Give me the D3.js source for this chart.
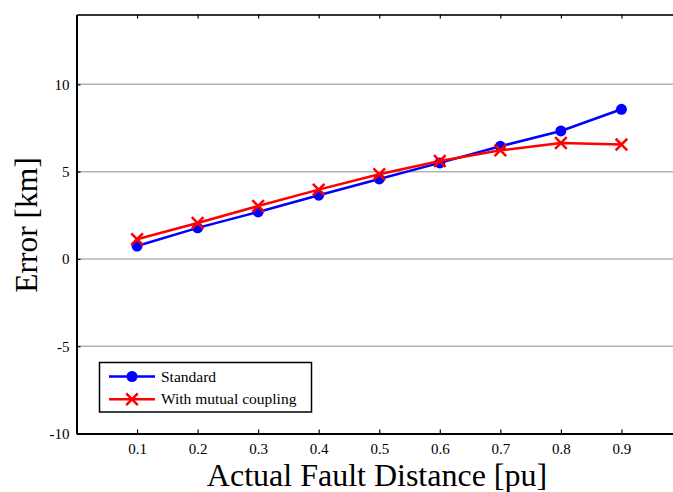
<!DOCTYPE html>
<html>
<head>
<meta charset="utf-8">
<script src="https://cdn.jsdelivr.net/npm/d3@7"></script>
<style>
  body { margin: 0; background: #fff; }
  svg text { font-family: "Times New Roman", "Liberation Serif", serif; }
</style>
</head>
<body>
<div id="chart"></div>
<script>
const distances = [0.1, 0.2, 0.3, 0.4, 0.5, 0.6, 0.7, 0.8, 0.9];
const standardErr = [0.74, 1.78, 2.69, 3.65, 4.58, 5.50, 6.45, 7.33, 8.57];
const mutualErr = [1.13, 2.06, 3.03, 3.97, 4.85, 5.61, 6.22, 6.64, 6.55];
const xTicks = [0.1, 0.2, 0.3, 0.4, 0.5, 0.6, 0.7, 0.8, 0.9];
const yTicks = [-10, -5, 0, 5, 10];
const legendLabels = ['Standard', 'With mutual coupling'];

const width = 673;
const height = 492;
const plot = { left: 76.5, top: 14.5, right: 682, bottom: 433.5 };

const svg = d3.select('#chart')
    .append('svg')
    .attr('width', width)
    .attr('height', height);

const x = d3.scaleLinear().domain([0, 1]).range([plot.left, plot.right]);
const y = d3.scaleLinear().domain([-10, 14]).range([plot.bottom, plot.top]);

// grid lines
svg.append('g')
    .selectAll('line')
    .data(yTicks.filter(d => d > -10))
    .join('line')
    .attr('x1', plot.left)
    .attr('x2', width)
    .attr('y1', d => y(d))
    .attr('y2', d => y(d))
    .attr('stroke', '#b4b4b4')
    .attr('stroke-width', 1.5);

// bottom axis
const xAxis = d3.axisBottom(x).tickValues(xTicks).tickSize(-4).tickSizeOuter(0)
    .tickPadding(10).tickFormat(d3.format('.1f'));
const gx = svg.append('g')
    .attr('transform', `translate(0,${plot.bottom})`)
    .attr('font-family', null)
    .call(xAxis);
gx.attr('font-family', null);
gx.select('.domain').attr('stroke', '#000').attr('stroke-width', 2);
gx.selectAll('.tick line').attr('stroke', '#000').attr('stroke-width', 1.2);
gx.selectAll('.tick text').attr('font-size', 15).attr('fill', '#000');

// top axis (ticks only)
const gt = svg.append('g')
    .attr('transform', `translate(0,${plot.top})`)
    .call(d3.axisTop(x).tickValues(xTicks).tickSize(-4).tickSizeOuter(0).tickFormat(''));
gt.select('.domain').attr('stroke', '#333').attr('stroke-width', 2);
gt.selectAll('.tick line').attr('stroke', '#000').attr('stroke-width', 1.2);

// left axis
const yAxis = d3.axisLeft(y).tickValues(yTicks).tickSize(-4).tickSizeOuter(0)
    .tickPadding(7).tickFormat(d => String(d));
const gy = svg.append('g')
    .attr('transform', `translate(${plot.left},0)`)
    .call(yAxis);
gy.attr('font-family', null);
gy.select('.domain').attr('stroke', '#000').attr('stroke-width', 2);
gy.selectAll('.tick line').attr('stroke', '#000').attr('stroke-width', 1.2);
gy.selectAll('.tick text').attr('font-size', 15).attr('fill', '#000');

// series
const line = d3.line()
    .x((d, i) => x(distances[i]))
    .y(d => y(d));

svg.append('path')
    .datum(standardErr)
    .attr('fill', 'none')
    .attr('stroke', '#0000ff')
    .attr('stroke-width', 2.5)
    .attr('d', line);

svg.append('g')
    .selectAll('circle')
    .data(standardErr)
    .join('circle')
    .attr('cx', (d, i) => x(distances[i]))
    .attr('cy', d => y(d))
    .attr('r', 5.5)
    .attr('fill', '#0000ff');

svg.append('path')
    .datum(mutualErr)
    .attr('fill', 'none')
    .attr('stroke', '#ff0000')
    .attr('stroke-width', 2.5)
    .attr('d', line);

const cross = d3.symbol().type(d3.symbolX).size(90);
svg.append('g')
    .selectAll('path')
    .data(mutualErr)
    .join('path')
    .attr('transform', (d, i) => `translate(${x(distances[i])},${y(d)})`)
    .attr('d', cross)
    .attr('fill', 'none')
    .attr('stroke', '#ff0000')
    .attr('stroke-width', 2.5);

// legend
const legend = svg.append('g');
legend.append('rect')
    .attr('x', 99.5)
    .attr('y', 362.5)
    .attr('width', 212)
    .attr('height', 49.5)
    .attr('fill', '#fff')
    .attr('stroke', '#000')
    .attr('stroke-width', 1.5);

const legendColors = ['#0000ff', '#ff0000'];
legendLabels.forEach((label, i) => {
    const ly = 376.5 + i * 22.8;
    legend.append('line')
        .attr('x1', 109).attr('x2', 155)
        .attr('y1', ly).attr('y2', ly)
        .attr('stroke', legendColors[i])
        .attr('stroke-width', 2.5);
    if (i === 0) {
        legend.append('circle')
            .attr('cx', 132).attr('cy', ly).attr('r', 5.5)
            .attr('fill', legendColors[i]);
    } else {
        legend.append('path')
            .attr('transform', `translate(132,${ly})`)
            .attr('d', cross)
            .attr('fill', 'none')
            .attr('stroke', legendColors[i])
            .attr('stroke-width', 2.5);
    }
    legend.append('text')
        .attr('x', 161)
        .attr('y', ly + 5)
        .attr('font-size', 15.5)
        .text(label);
});

// axis titles
svg.append('text')
    .attr('x', 377)
    .attr('y', 486)
    .attr('text-anchor', 'middle')
    .attr('font-size', 32)
    .text('Actual Fault Distance [pu]');

svg.append('text')
    .attr('transform', 'translate(37,225) rotate(-90)')
    .attr('text-anchor', 'middle')
    .attr('font-size', 31.5)
    .text('Error [km]');
</script>
</body>
</html>
